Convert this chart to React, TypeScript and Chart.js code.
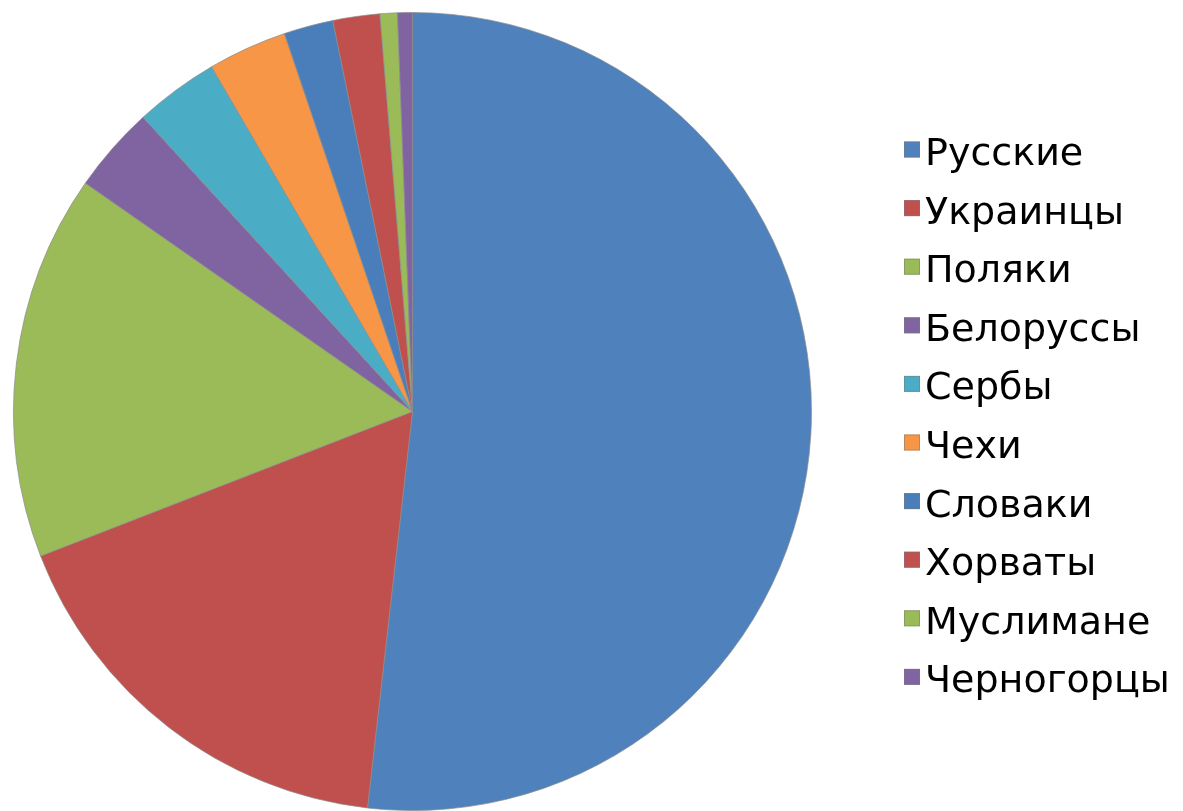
import React, { useEffect, useRef } from "react";
import { Chart, registerables } from "chart.js";

Chart.register(...registerables);

const categories = [
  "Русские",
  "Украинцы",
  "Поляки",
  "Белоруссы",
  "Сербы",
  "Чехи",
  "Словаки",
  "Хорваты",
  "Муслимане",
  "Черногорцы",
];
const shares = [51.8, 17.3, 15.6, 3.5, 3.4, 3.2, 2.0, 1.9, 0.7, 0.6];
const colors = [
  "#4F81BD",
  "#C0504D",
  "#9BBB59",
  "#8064A2",
  "#4BACC6",
  "#F79646",
  "#4A7EBB",
  "#C0504D",
  "#9BBB59",
  "#8064A2",
];

const legendPlugin = {
  id: "sideLegend",
  afterDraw(chart: any) {
    const ctx = chart.ctx;
    const labels: string[] = chart.data.labels;
    const bg: string[] = chart.data.datasets[0].backgroundColor;
    const boxX = 904;
    const boxSize = 16;
    const firstY = 149.5;
    const step = 58.6;
    ctx.save();
    ctx.font = '38px "DejaVu Sans", sans-serif';
    ctx.textBaseline = "alphabetic";
    ctx.textAlign = "left";
    labels.forEach((label, i) => {
      const cy = firstY + i * step;
      ctx.fillStyle = bg[i];
      ctx.fillRect(boxX, cy - boxSize / 2, boxSize, boxSize);
      ctx.strokeStyle = "rgba(120,120,120,0.5)";
      ctx.lineWidth = 1;
      ctx.strokeRect(boxX + 0.5, cy - boxSize / 2 + 0.5, boxSize - 1, boxSize - 1);
      ctx.fillStyle = "#000000";
      ctx.fillText(label, 925, cy + 15.5);
    });
    ctx.restore();
  },
};

export default function App() {
  const ref = useRef<HTMLCanvasElement | null>(null);
  useEffect(() => {
    document.body.style.margin = "0";
    const canvas = ref.current;
    if (!canvas) return;
    const chart = new Chart(canvas, {
      type: "pie",
      data: {
        labels: categories,
        datasets: [
          {
            data: shares,
            backgroundColor: colors,
            borderColor: "rgba(140,140,140,0.7)",
            borderWidth: 1,
          },
        ],
      },
      options: {
        responsive: false,
        animation: false,
        devicePixelRatio: 1,
        layout: { padding: { top: 12, bottom: 0, left: 13, right: 371 } },
        plugins: {
          legend: { display: false },
          tooltip: { enabled: false },
        },
      },
      plugins: [legendPlugin],
    });
    return () => chart.destroy();
  }, []);
  return (
    <div style={{ position: "fixed", left: 0, top: 0, width: 1183, height: 811, background: "#fff" }}>
      <canvas ref={ref} width={1183} height={811} style={{ width: 1183, height: 811 }} />
    </div>
  );
}
